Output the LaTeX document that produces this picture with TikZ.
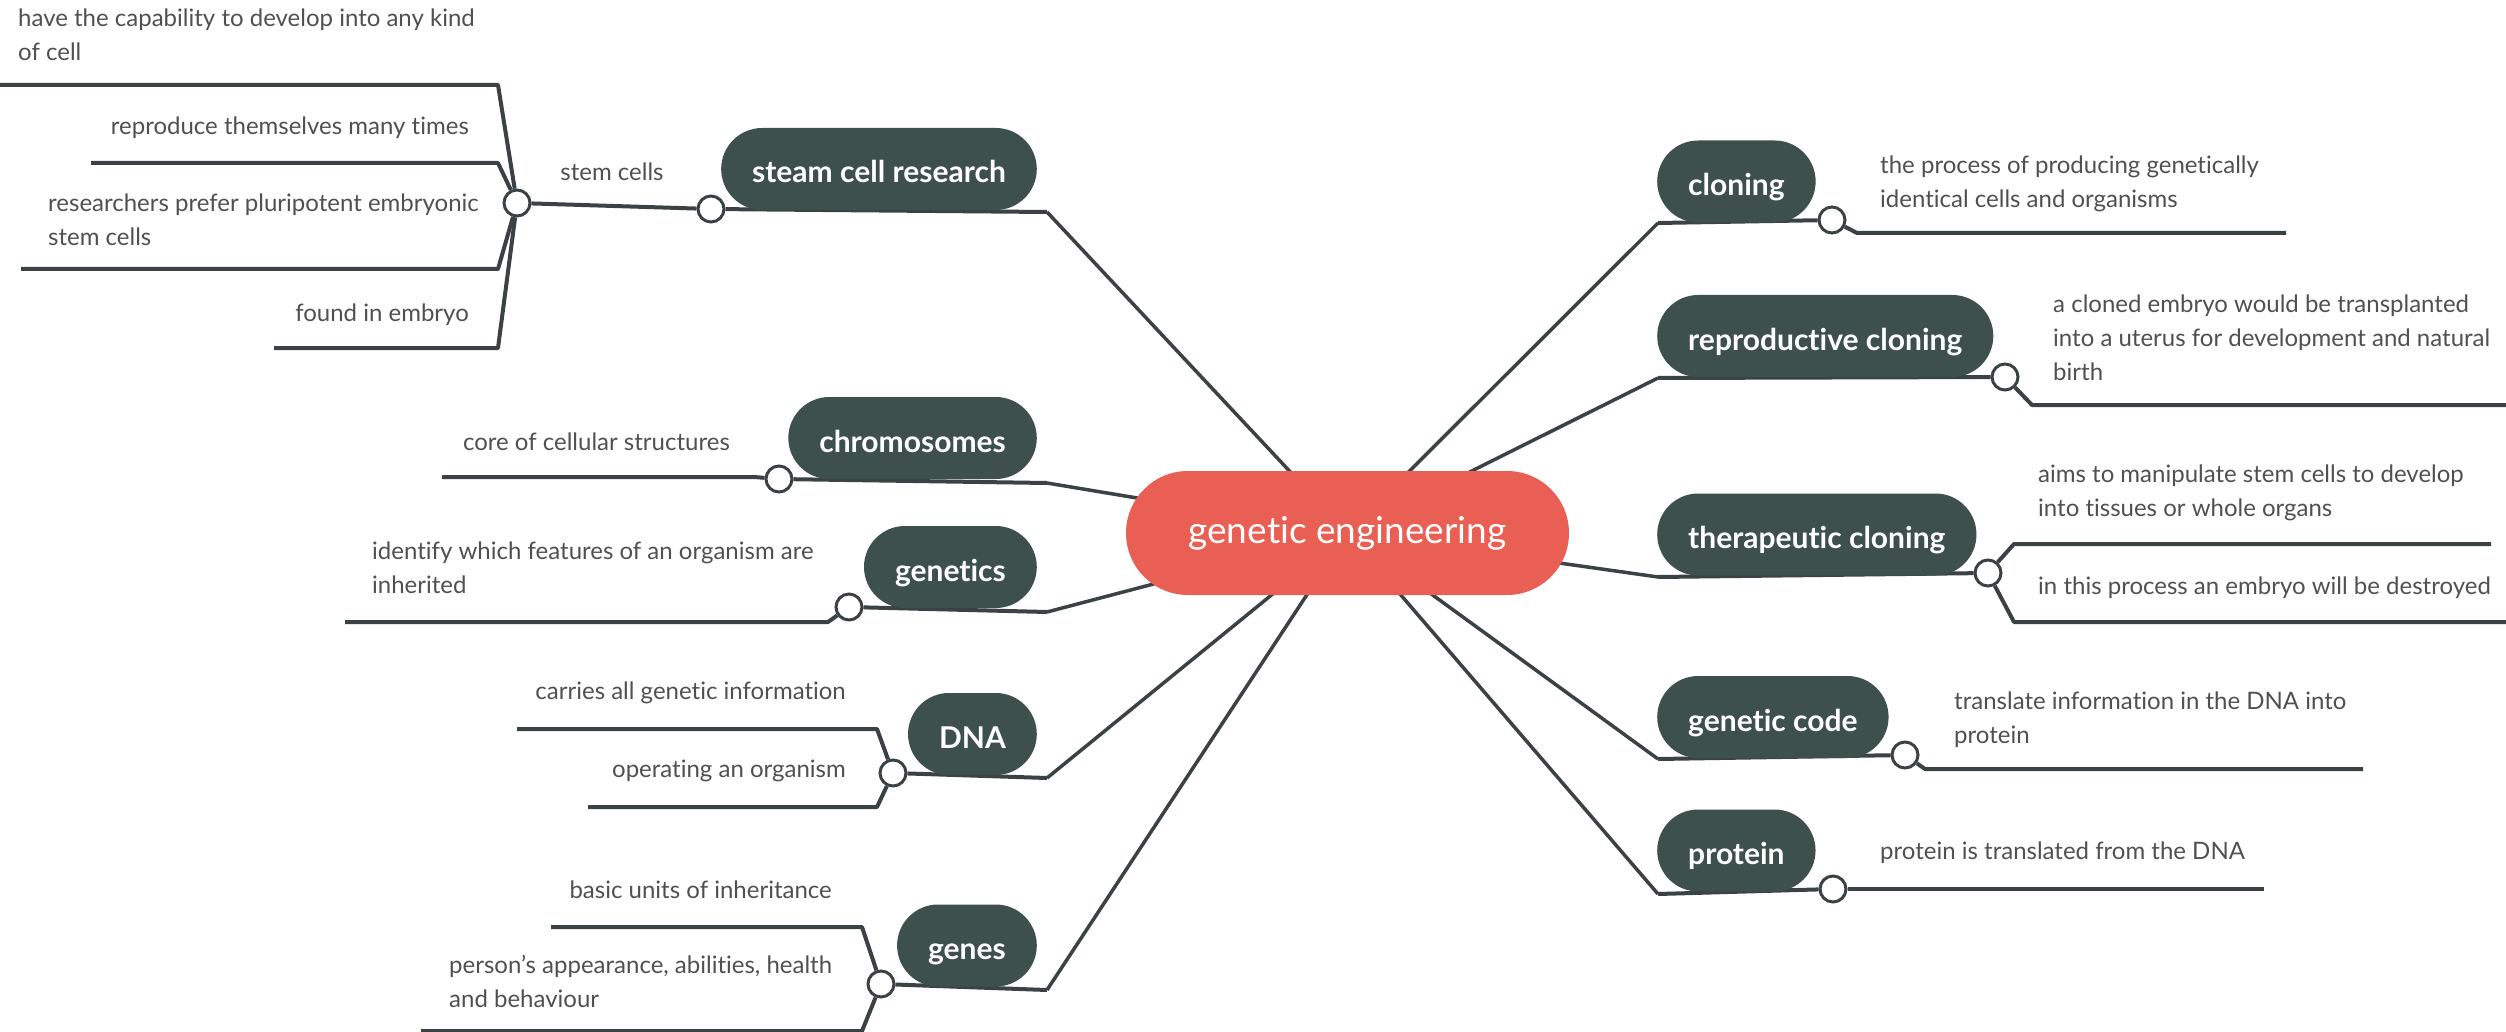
\documentclass[tikz,border=0pt]{standalone}
\usepackage{fontspec}
\setmainfont{Lato}[Ligatures={TeX,NoCommon}]
\definecolor{nodefill}{RGB}{62,80,76}
\definecolor{centralfill}{RGB}{233,95,83}
\definecolor{linecol}{RGB}{58,66,68}
\definecolor{notecol}{RGB}{80,80,80}
\pgfdeclarelayer{bg}
\pgfsetlayers{bg,main}
\begin{document}
\begin{tikzpicture}[x=1pt,y=-1pt,
  topic/.style={fill=nodefill, text=white, font=\fontsize{30}{36}\selectfont\bfseries,
    rounded corners=41pt, minimum height=82pt, inner xsep=31pt, inner ysep=0pt,
    text height=34pt, text depth=6pt},
  central/.style={fill=centralfill, text=white, font=\fontsize{37}{44}\selectfont,
    rounded corners=62pt, minimum width=443pt, minimum height=124pt, inner sep=0pt},
  note/.style={text=notecol, font=\fontsize{24}{34}\selectfont, inner sep=0pt, align=left},
  knob/.style={circle, draw=linecol, fill=white, line width=3pt, minimum size=26pt, inner sep=0pt},
  conn/.style={draw=linecol, line width=4pt, line join=round},
  spoke/.style={draw=linecol, line width=3.5pt}]
\useasboundingbox (0,0) rectangle (2506,1032);

% central topic
\node[central] (ge) at (1347.5,533) {genetic engineering};

% left topics
\node[topic, anchor=east] (scr) at (1037,169) {steam cell research};
\node[topic, anchor=east] (chr) at (1037,438) {chromosomes};
\node[topic, anchor=east] (gen) at (1037,567) {genetics};
\node[topic, anchor=east] (dna) at (1037,734) {DNA};
\node[topic, anchor=east] (gns) at (1037,945.5) {genes};
% right topics
\node[topic, anchor=west] (clo) at (1657,181.5) {cloning};
\node[topic, anchor=west] (rep) at (1657,336) {reproductive cloning};
\node[topic, anchor=west] (the) at (1657,534.5) {therapeutic cloning};
\node[topic, anchor=west] (gco) at (1657,717) {genetic code};
\node[topic, anchor=west] (pro) at (1657,850.5) {protein};

% knobs
\node[knob] (k-scr) at (711,209) {};
\node[knob] (k-stem) at (517,203) {};
\node[knob] (k-chr) at (779,479) {};
\node[knob] (k-gen) at (849,607) {};
\node[knob] (k-dna) at (893,773) {};
\node[knob] (k-gns) at (881,984) {};
\node[knob] (k-clo) at (1832,220) {};
\node[knob] (k-rep) at (2005,377) {};
\node[knob] (k-the) at (1988,573) {};
\node[knob] (k-gco) at (1905,755) {};
\node[knob] (k-pro) at (1833,889) {};

% notes
\node[note, anchor=west] (n1) at (18,34.5) {have the capability to develop into any kind\\of cell};
\node[note, anchor=east] (n2) at (469,128) {reproduce themselves many times};
\node[note, anchor=west] (n3) at (48,220) {researchers prefer pluripotent embryonic\\stem cells};
\node[note, anchor=east] (n4) at (469,315) {found in embryo};
\node[note] (nstem) at (612,172) {stem cells};
\node[note, anchor=east] (n5) at (730,442) {core of cellular structures};
\node[note, anchor=west] (n6) at (372,568) {identify which features of an organism are\\inherited};
\node[note, anchor=east] (n7) at (846,693) {carries all genetic information};
\node[note, anchor=east] (n8) at (846,771) {operating an organism};
\node[note, anchor=east] (n9) at (832,890) {basic units of inheritance};
\node[note, anchor=west] (n10) at (449,981) {person's appearance, abilities, health\\and behaviour};
\node[note, anchor=west] (n11) at (1880,183.5) {the process of producing genetically\\identical cells and organisms};
\node[note, anchor=west] (n12) at (2053,338) {a cloned embryo would be transplanted\\into a uterus for development and natural\\birth};
\node[note, anchor=west] (n13) at (2038,493) {aims to manipulate stem cells to develop\\into tissues or whole organs};
\node[note, anchor=west] (n14) at (2038,588) {in this process an embryo will be destroyed};
\node[note, anchor=west] (n15) at (1954,720) {translate information in the DNA into\\protein};
\node[note, anchor=west] (n16) at (1880,853) {protein is translated from the DNA};

% underline ends
\coordinate (scr-u) at (1047,212);
\coordinate (chr-u) at (1047,483);
\coordinate (gen-u) at (1047,612);
\coordinate (dna-u) at (1047,778);
\coordinate (gns-u) at (1047,990);
\coordinate (clo-u) at (1658,223);
\coordinate (rep-u) at (1658,378);
\coordinate (the-u) at (1658,577);
\coordinate (gco-u) at (1658,759);
\coordinate (pro-u) at (1658,894);
% free ends of note lines
\coordinate (e-s1) at (0,85);
\coordinate (e-s2) at (91,163);
\coordinate (e-s3) at (21,269);
\coordinate (e-s4) at (274,348);
\coordinate (e-chr) at (442,477);
\coordinate (e-gen) at (345,622);
\coordinate (e-dna1) at (517,729);
\coordinate (e-dna2) at (588,807);
\coordinate (e-gns1) at (551,927);
\coordinate (e-gns2) at (421,1031);
\coordinate (e-clo) at (2286,233);
\coordinate (e-rep) at (2506,405);
\coordinate (e-the1) at (2491,544);
\coordinate (e-the2) at (2506,622);
\coordinate (e-gco) at (2363,769);
\coordinate (e-pro) at (2264,889);

\begin{pgfonlayer}{bg}
% spokes to the central topic
\foreach \u in {scr-u,chr-u,gen-u,dna-u,gns-u,clo-u,rep-u,the-u,gco-u,pro-u}
  \draw[spoke] (\u) -- (ge.center);
% underlines of topics
\draw[conn] (k-scr) -- (scr-u);
\draw[conn] (k-chr) -- (chr-u);
\draw[conn] (k-gen) -- (gen-u);
\draw[conn] (k-dna) -- (dna-u);
\draw[conn] (k-gns) -- (gns-u);
\draw[conn] (clo-u) -- (k-clo);
\draw[conn] (rep-u) -- (k-rep);
\draw[conn] (the-u) -- (k-the);
\draw[conn] (gco-u) -- (k-gco);
\draw[conn] (pro-u) -- (k-pro);
% note lines
\draw[conn] (k-scr) -- (k-stem);
\draw[conn] (k-stem) -- (498,85) -- (e-s1);
\draw[conn] (k-stem) -- (498,163) -- (e-s2);
\draw[conn] (k-stem) -- (498,269) -- (e-s3);
\draw[conn] (k-stem) -- (498,348) -- (e-s4);
\draw[conn] (k-chr) -- (754,477) -- (e-chr);
\draw[conn] (k-gen) -- (828,622) -- (e-gen);
\draw[conn] (k-dna) -- (877,729) -- (e-dna1);
\draw[conn] (k-dna) -- (877,807) -- (e-dna2);
\draw[conn] (k-gns) -- (862,927) -- (e-gns1);
\draw[conn] (k-gns) -- (862,1031) -- (e-gns2);
\draw[conn] (k-clo) -- (1857,233) -- (e-clo);
\draw[conn] (k-rep) -- (2032,405) -- (e-rep);
\draw[conn] (k-the) -- (2014,544) -- (e-the1);
\draw[conn] (k-the) -- (2014,622) -- (e-the2);
\draw[conn] (k-gco) -- (1925,769) -- (e-gco);
\draw[conn] (k-pro) -- (e-pro);
\end{pgfonlayer}
\end{tikzpicture}
\end{document}
